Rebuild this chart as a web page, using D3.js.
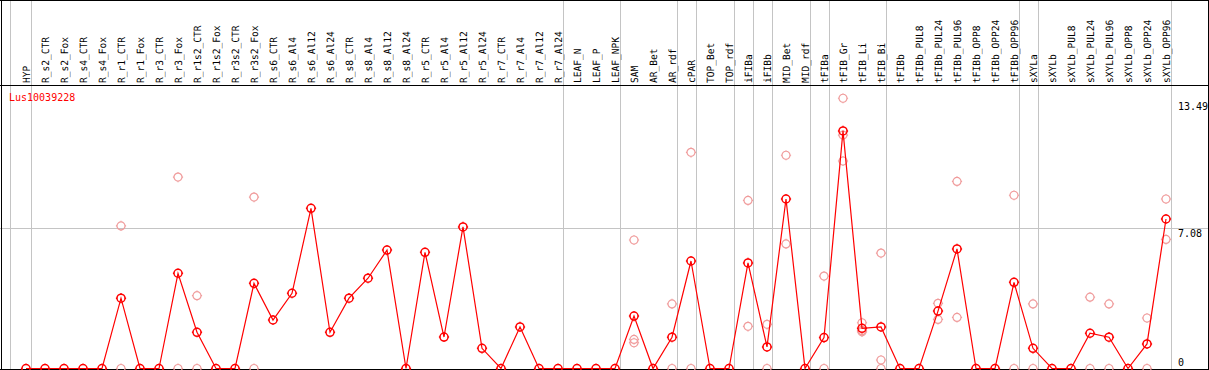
<!DOCTYPE html>
<html>
<head>
<meta charset="utf-8">
<script src="https://cdn.jsdelivr.net/npm/d3@7"></script>
<style>
  html, body { margin: 0; padding: 0; background: #fff; }
  svg { display: block; }
  text { font-family: "DejaVu Sans Mono", "Liberation Mono", monospace; }
</style>
</head>
<body>
<svg id="chart" width="1209" height="370"></svg>
<script>
const categories = ["HYP","R_s2_CTR","R_s2_Fox","R_s4_CTR","R_s4_Fox","R_r1_CTR","R_r1_Fox","R_r3_CTR","R_r3_Fox","R_r1s2_CTR","R_r1s2_Fox","R_r3s2_CTR","R_r3s2_Fox","R_s6_CTR","R_s6_Al4","R_s6_Al12","R_s6_Al24","R_s8_CTR","R_s8_Al4","R_s8_Al12","R_s8_Al24","R_r5_CTR","R_r5_Al4","R_r5_Al12","R_r5_Al24","R_r7_CTR","R_r7_Al4","R_r7_Al12","R_r7_Al24","LEAF_N","LEAF_P","LEAF_NPK","SAM","AR_Bet","AR_rdf","cPAR","TOP_Bet","TOP_rdf","iFIBa","iFIBb","MID_Bet","MID_rdf","tFIBa","tFIB_Gr","tFIB_Li","tFIB_Bi","tFIBb","tFIBb_PUL8","tFIBb_PUL24","tFIBb_PUL96","tFIBb_OPP8","tFIBb_OPP24","tFIBb_OPP96","sXYLa","sXYLb","sXYLb_PUL8","sXYLb_PUL24","sXYLb_PUL96","sXYLb_OPP8","sXYLb_OPP24","sXYLb_OPP96"];

const meanValues = [0,0,0,0,0,3.55,0,0,4.81,1.83,0,0,4.30,2.45,3.80,8.09,1.83,3.55,4.56,5.98,0,5.87,1.59,7.15,1.02,0,2.10,0,0,0,0,0,2.65,0,1.58,5.43,0,0,5.33,1.09,8.56,0,1.56,12.0,2.03,2.10,0,0,2.90,6.04,0,0,4.35,1.02,0,0,1.78,1.58,0,1.24,7.55];

const repCategories = ["R_r1_CTR","R_r1_CTR","R_r3_Fox","R_r3_Fox","R_r1s2_CTR","R_r1s2_CTR","R_r3s2_Fox","R_r3s2_Fox","SAM","SAM","SAM","AR_rdf","AR_rdf","cPAR","cPAR","iFIBa","iFIBa","iFIBb","iFIBb","MID_Bet","MID_Bet","tFIBa","tFIBa","tFIB_Gr","tFIB_Gr","tFIB_Gr","tFIB_Li","tFIB_Li","tFIB_Li","tFIB_Bi","tFIB_Bi","tFIB_Bi","tFIBb_PUL24","tFIBb_PUL24","tFIBb_PUL96","tFIBb_PUL96","tFIBb_OPP96","tFIBb_OPP96","sXYLa","sXYLa","sXYLb_PUL24","sXYLb_PUL24","sXYLb_PUL96","sXYLb_PUL96","sXYLb_OPP24","sXYLb_OPP24","sXYLb_OPP96","sXYLb_OPP96"];
const repValues = [7.2,0,9.67,0,3.68,0,8.66,0,6.49,1.47,1.30,3.26,0,10.92,0,8.49,2.13,2.23,0,10.77,6.29,4.67,0,13.65,11.79,10.48,2.31,1.91,1.85,5.83,0.43,0,3.29,2.48,9.45,2.58,8.75,0,3.26,0,3.60,0,3.26,0,2.55,0,8.56,6.52];

const groupEnds = ["HYP","R_r7_Al24","LEAF_NPK","AR_rdf","cPAR","TOP_rdf","iFIBa","iFIBb","MID_rdf","tFIBa","tFIB_Bi","tFIBb_OPP96","sXYLa","sXYLb_OPP96"];
const yTickValues = [13.49, 7.08, 0];
const geneName = "Lus10039228";

const W = 1209, H = 370;
const svg = d3.select("#chart");

const x = d3.scalePoint().domain(categories).range([26, 1166]);
const y = d3.scaleLinear().domain([0, 13.49]).range([368.5, 101.4]);

const darkRed = "#ff0000";
const pale = "#f09c9c";
const gridGray = "#c4c4c4";

// vertical grid lines
const gx = svg.append("g").attr("shape-rendering", "crispEdges");
gx.append("line").attr("x1", 10.5).attr("x2", 10.5).attr("y1", 0).attr("y2", H)
  .attr("stroke", gridGray);
gx.selectAll("line.v").data(groupEnds).enter().append("line")
  .attr("class", "v")
  .attr("x1", d => Math.round(x(d) + 4.7) + 0.5)
  .attr("x2", d => Math.round(x(d) + 4.7) + 0.5)
  .attr("y1", 0).attr("y2", H)
  .attr("stroke", gridGray);

// horizontal gray gridline at middle tick
gx.append("line").attr("x1", 0).attr("x2", W)
  .attr("y1", Math.round(y(7.08)) + 0.5).attr("y2", Math.round(y(7.08)) + 0.5)
  .attr("stroke", gridGray);

// frame lines
const fr = svg.append("g").attr("shape-rendering", "crispEdges").attr("stroke", "#000");
fr.append("line").attr("x1", 0).attr("x2", W).attr("y1", 0.5).attr("y2", 0.5);
fr.append("line").attr("x1", 0).attr("x2", W).attr("y1", 85.5).attr("y2", 85.5);
fr.append("line").attr("x1", 0).attr("x2", W).attr("y1", 369.5).attr("y2", 369.5);
fr.append("line").attr("x1", 1.5).attr("x2", 1.5).attr("y1", 0).attr("y2", H);
fr.append("line").attr("x1", 1208.5).attr("x2", 1208.5).attr("y1", 0).attr("y2", H);

// column labels
svg.append("g").selectAll("text").data(categories).enter().append("text")
  .attr("transform", d => `translate(${x(d) + 3.6},83) rotate(-90)`)
  .attr("font-size", "10px")
  .attr("textLength", d => d.length * 5.75)
  .attr("lengthAdjust", "spacingAndGlyphs")
  .attr("fill", "#000")
  .attr("text-rendering", "geometricPrecision")
  .text(d => d);

// y tick labels on right
svg.append("g").selectAll("text").data(yTickValues).enter().append("text")
  .attr("x", 1178)
  .attr("y", d => d === 0 ? 366 : y(d) + 8.6)
  .attr("font-size", "10px")
  .attr("fill", "#000")
  .text(d => d);

// gene name
svg.append("text").attr("x", 9).attr("y", 100.5)
  .attr("font-size", "10px").attr("fill", darkRed).text(geneName);

// marker path (circle with small ticks)
function marker(r) {
  const t = 1.1;
  return `M${-r},0A${r},${r} 0 1,0 ${r},0A${r},${r} 0 1,0 ${-r},0` +
    `M0,${-r - t}L0,${-r}M0,${r}L0,${r + t}M${-r - t},0L${-r},0M${r},0L${r + t},0`;
}

const plot = svg.append("g");

// replicate points
const reps = repCategories.map((c, i) => ({ c, v: repValues[i] }));
plot.selectAll("path.rep").data(reps).enter().append("path")
  .attr("class", "rep")
  .attr("transform", d => `translate(${x(d.c)},${y(d.v)})`)
  .attr("d", marker(4))
  .attr("fill", "none")
  .attr("stroke", pale)
  .attr("stroke-width", 1.2);

// mean line
const means = categories.map((c, i) => ({ c, v: meanValues[i] }));
plot.append("path").datum(means)
  .attr("d", d3.line().x(d => x(d.c)).y(d => y(d.v)))
  .attr("fill", "none").attr("stroke", darkRed).attr("stroke-width", 1.2);

plot.selectAll("path.mean").data(means).enter().append("path")
  .attr("class", "mean")
  .attr("transform", d => `translate(${x(d.c)},${y(d.v)})`)
  .attr("d", marker(4))
  .attr("fill", "none")
  .attr("stroke", darkRed)
  .attr("stroke-width", 1.5);
</script>
</body>
</html>
